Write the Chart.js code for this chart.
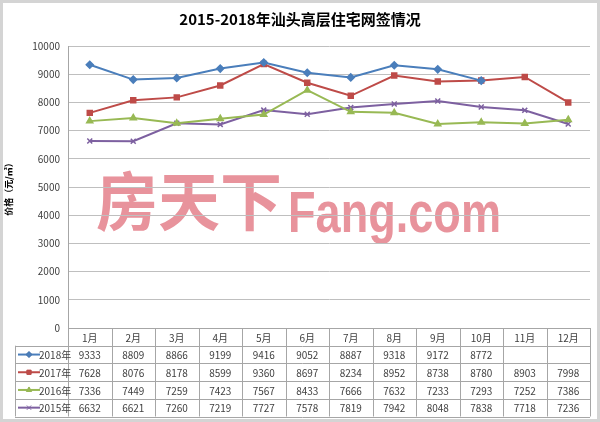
<!DOCTYPE html>
<html>
<head>
<meta charset="utf-8">
<script src="https://cdn.jsdelivr.net/npm/chart.js@4/dist/chart.umd.min.js"></script>
<style>
  html, body { margin: 0; padding: 0; background: #fff; }
  #wrap { position: relative; width: 600px; height: 422px; box-sizing: border-box; border: 3px solid #d4d4d4; }
  canvas { display: block; }
</style>
</head>
<body>
<div id="wrap"><canvas id="signChart" width="594" height="416"></canvas></div>
<script>
// 2015-2018 汕头高层住宅网签均价 (元/㎡)
const months = ['1月', '2月', '3月', '4月', '5月', '6月', '7月', '8月', '9月', '10月', '11月', '12月'];
const seriesNames = ['2018年', '2017年', '2016年', '2015年'];
const price2018 = [9333, 8809, 8866, 9199, 9416, 9052, 8887, 9318, 9172, 8772, null, null];
const price2017 = [7628, 8076, 8178, 8599, 9360, 8697, 8234, 8952, 8738, 8780, 8903, 7998];
const price2016 = [7336, 7449, 7259, 7423, 7567, 8433, 7666, 7632, 7233, 7293, 7252, 7386];
const price2015 = [6632, 6621, 7260, 7219, 7727, 7578, 7819, 7942, 8048, 7838, 7718, 7236];
const yTicks = [0, 1000, 2000, 3000, 4000, 5000, 6000, 7000, 8000, 9000, 10000];

const colors = ['#4a7ebb', '#be4b48', '#98b954', '#7d60a0'];
const markers = ['rectRot', 'rect', 'triangle', 'crossRot'];
const allSeries = [price2018, price2017, price2016, price2015];

const font = '"Noto Sans CJK SC", "Noto Sans", sans-serif';
const rowH = 17.7;
const tableLeft = 12;

// squeeze a string into a given width
function fitText(ctx, text, x, y, width) {
  const w = ctx.measureText(text).width;
  ctx.save();
  ctx.translate(x, y);
  ctx.scale(width / w, 1);
  ctx.fillText(text, 0, 0);
  ctx.restore();
}

// title, watermark and data table below the plot
const extras = {
  id: 'extras',
  beforeDraw(chart) {
    const ctx = chart.ctx;
    ctx.save();
    ctx.fillStyle = '#e8939c';
    ctx.textBaseline = 'alphabetic';
    ctx.textAlign = 'left';
    ctx.font = 'bold 64px ' + font;
    fitText(ctx, '房天下', 93, 222, 186);
    ctx.font = 'bold 58px "Liberation Sans", sans-serif';
    fitText(ctx, 'Fang.com', 285, 229, 213);
    ctx.restore();
  },
  afterDraw(chart) {
    const ctx = chart.ctx;
    const area = chart.chartArea;
    const x = chart.scales.x;
    const colW = (area.right - area.left) / months.length;
    ctx.save();

    // title
    ctx.fillStyle = '#000';
    ctx.font = 'bold 15px ' + font;
    ctx.textAlign = 'center';
    ctx.textBaseline = 'middle';
    ctx.fillText('2015-2018年汕头高层住宅网签情况', 297, 16);

    // grid of the table
    const top = area.bottom;
    ctx.strokeStyle = '#a6a6a6';
    ctx.lineWidth = 1;
    ctx.beginPath();
    for (let r = 0; r <= seriesNames.length + 1; r++) {
      const y = Math.round(top + r * rowH) + 0.5;
      ctx.moveTo(r === 0 ? area.left : tableLeft, y);
      ctx.lineTo(area.right, y);
    }
    for (let c = 0; c <= months.length; c++) {
      const xx = Math.round(area.left + c * colW) + 0.5;
      ctx.moveTo(xx, top);
      ctx.lineTo(xx, top + rowH * (seriesNames.length + 1));
    }
    const lx = tableLeft + 0.5;
    ctx.moveTo(lx, top + rowH);
    ctx.lineTo(lx, top + rowH * (seriesNames.length + 1));
    ctx.stroke();

    ctx.font = '10px ' + font;
    ctx.fillStyle = '#404040';
    ctx.textAlign = 'center';
    months.forEach((m, i) => {
      ctx.fillText(m, x.getPixelForValue(i), top + rowH / 2 + 1);
    });
    allSeries.forEach((vals, s) => {
      const y = top + rowH * (s + 1) + rowH / 2 + 1;
      vals.forEach((v, i) => {
        if (v !== null) ctx.fillText(String(v), x.getPixelForValue(i), y);
      });
      // legend key
      ctx.strokeStyle = colors[s];
      ctx.lineWidth = 2;
      ctx.beginPath();
      ctx.moveTo(tableLeft + 3, y - 1);
      ctx.lineTo(tableLeft + 25, y - 1);
      ctx.stroke();
      ctx.lineWidth = 1;
      Chart.helpers.drawPoint(ctx, {
        pointStyle: markers[s], radius: 3, borderWidth: 1.5, rotation: 0
      }, tableLeft + 14, y - 1);
      ctx.fillStyle = colors[s];
      ctx.fill();
      ctx.fillStyle = '#404040';
      ctx.textAlign = 'left';
      ctx.fillText(seriesNames[s], tableLeft + 24, y);
      ctx.textAlign = 'center';
    });
    ctx.restore();
  }
};

const ctx = document.getElementById('signChart').getContext('2d');
new Chart(ctx, {
  type: 'line',
  data: {
    labels: months,
    datasets: allSeries.map((vals, s) => ({
      label: seriesNames[s],
      data: vals,
      borderColor: colors[s],
      backgroundColor: colors[s],
      borderWidth: 2,
      pointStyle: markers[s],
      pointRadius: 3.5,
      pointBorderWidth: 1.5,
      tension: 0,
      spanGaps: false
    }))
  },
  options: {
    responsive: false,
    animation: false,
    devicePixelRatio: 1,
    layout: { padding: { top: 43, bottom: 91, left: 0, right: 7 } },
    plugins: {
      legend: { display: false },
      tooltip: { enabled: false },
      title: { display: false }
    },
    scales: {
      x: { display: false, offset: true },
      y: {
        min: 0,
        max: 10000,
        afterBuildTicks(scale) { scale.ticks = yTicks.map(v => ({ value: v })); },
        afterFit(scale) { scale.width = 65; },
        ticks: {
          color: '#404040',
          font: { family: font, size: 10 },
          padding: 8,
          callback: v => String(v)
        },
        grid: { color: '#bfbfbf', drawTicks: false },
        border: { color: '#a6a6a6' },
        title: {
          display: true,
          text: '价格（元/㎡）',
          color: '#000',
          font: { family: font, size: 9, weight: 'bold' },
          padding: { top: 0, bottom: 4 }
        }
      }
    }
  },
  plugins: [extras]
});
</script>
</body>
</html>
